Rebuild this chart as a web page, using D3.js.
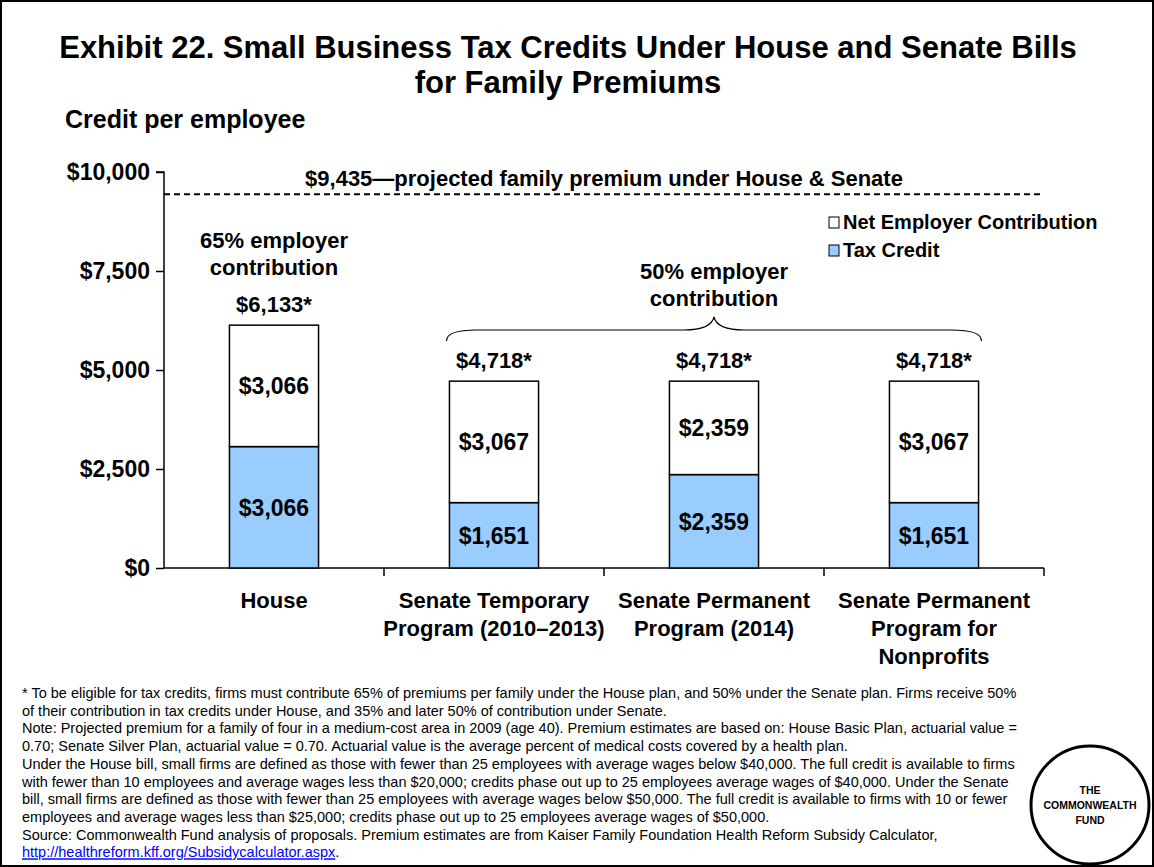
<!DOCTYPE html>
<html><head><meta charset="utf-8">
<script src="https://cdn.jsdelivr.net/npm/d3@7/dist/d3.min.js"></script>
<style>
html,body{margin:0;padding:0;background:#fff;}
svg{display:block;font-family:Arial,"Liberation Sans",sans-serif;}
</style></head>
<body>
<svg id="chart" width="1154" height="867"></svg>
<script>
const categories = ["House", "Senate Temporary Program (2010–2013)", "Senate Permanent Program (2014)", "Senate Permanent Program for Nonprofits"];
const categoryLines = [["House"], ["Senate Temporary", "Program (2010–2013)"], ["Senate Permanent", "Program (2014)"], ["Senate Permanent", "Program for", "Nonprofits"]];
const taxCredit = [3066, 1651, 2359, 1651];
const netEmployer = [3066, 3067, 2359, 3067];
const totalLabels = ["$6,133*", "$4,718*", "$4,718*", "$4,718*"];
const creditLabels = ["$3,066", "$1,651", "$2,359", "$1,651"];
const netLabels = ["$3,066", "$3,067", "$2,359", "$3,067"];
const yTicks = [0, 2500, 5000, 7500, 10000];
const premium = 9435;
const premiumLabel = "$9,435—projected family premium under House & Senate";
const seriesNames = ["Net Employer Contribution", "Tax Credit"];
const footnotes = [
  "* To be eligible for tax credits, firms must contribute 65% of premiums per family under the House plan, and 50% under the Senate plan. Firms receive 50%",
  "of their contribution in tax credits under House, and 35% and later 50% of contribution under Senate.",
  "Note: Projected premium for a family of four in a medium-cost area in 2009 (age 40). Premium estimates are based on: House Basic Plan, actuarial value =",
  "0.70; Senate Silver Plan, actuarial value = 0.70. Actuarial value is the average percent of medical costs covered by a health plan.",
  "Under the House bill, small firms are defined as those with fewer than 25 employees with average wages below $40,000. The full credit is available to firms",
  "with fewer than 10 employees and average wages less than $20,000; credits phase out up to 25 employees average wages of $40,000. Under the Senate",
  "bill, small firms are defined as those with fewer than 25 employees with average wages below $50,000. The full credit is available to firms with 10 or fewer",
  "employees and average wages less than $25,000; credits phase out up to 25 employees average wages of $50,000.",
  "Source: Commonwealth Fund analysis of proposals. Premium estimates are from Kaiser Family Foundation Health Reform Subsidy Calculator,"
];
const sourceLink = "http://healthreform.kff.org/Subsidycalculator.aspx";

const svg = d3.select("#chart");
const W = 1154, H = 867;
const mLeft = 164, mRight = 1044, mTop = 172, mBottom = 568;

// frame
svg.append("rect").attr("x", 1).attr("y", 1).attr("width", W - 2).attr("height", H - 2)
  .attr("fill", "#fff").attr("stroke", "#000").attr("stroke-width", 2);

// title
const title = svg.append("text").attr("text-anchor", "middle").attr("font-weight", "bold")
  .attr("font-size", 31).attr("fill", "#000");
title.append("tspan").attr("x", 568).attr("y", 58).text("Exhibit 22. Small Business Tax Credits Under House and Senate Bills");
title.append("tspan").attr("x", 568).attr("y", 93).text("for Family Premiums");

svg.append("text").attr("x", 65).attr("y", 128).attr("font-weight", "bold").attr("font-size", 25)
  .text("Credit per employee");

const x = d3.scaleBand().domain(categories).range([mLeft, mRight]).padding(0);
const y = d3.scaleLinear().domain([0, 10000]).range([mBottom, mTop]);
const barW = x.bandwidth() * 0.405;

// y axis
const yAxis = svg.append("g").attr("transform", `translate(${mLeft},0)`)
  .call(d3.axisLeft(y).tickValues(yTicks).tickSize(8).tickPadding(6)
    .tickFormat(d => "$" + d3.format(",")(d)));
yAxis.select(".domain").attr("stroke", "#000").attr("stroke-width", 1.5).attr("d", `M-8,${y(10000)}H0V${mBottom}`);
yAxis.selectAll(".tick line").attr("stroke", "#000").attr("stroke-width", 1.5);
yAxis.selectAll(".tick text").attr("font-size", 23).attr("font-weight", "bold").attr("fill", "#000")
  .attr("font-family", "Arial, 'Liberation Sans', sans-serif");

// x axis
const xg = svg.append("g");
xg.append("line").attr("x1", mLeft).attr("x2", mRight).attr("y1", mBottom).attr("y2", mBottom)
  .attr("stroke", "#000").attr("stroke-width", 1.5);
categories.forEach(c => {
  const xe = x(c) + x.bandwidth();
  xg.append("line").attr("x1", xe).attr("x2", xe).attr("y1", mBottom).attr("y2", mBottom + 8)
    .attr("stroke", "#000").attr("stroke-width", 1.5);
});

// dashed premium line
svg.append("line").attr("x1", mLeft).attr("x2", mRight).attr("y1", y(premium)).attr("y2", y(premium))
  .attr("stroke", "#000").attr("stroke-width", 2).attr("stroke-dasharray", "6,4");
svg.append("text").attr("x", (mLeft + mRight) / 2).attr("y", 186).attr("text-anchor", "middle")
  .attr("font-weight", "bold").attr("font-size", 22).text(premiumLabel);

// bars
const bars = svg.append("g");
categories.forEach((c, i) => {
  const cx = x(c) + x.bandwidth() / 2;
  const c0 = y(0), c1 = y(taxCredit[i]), c2 = y(taxCredit[i] + netEmployer[i]);
  bars.append("rect").attr("x", cx - barW / 2).attr("y", c1).attr("width", barW).attr("height", c0 - c1)
    .attr("fill", "#99CCFF").attr("stroke", "#000").attr("stroke-width", 1.5);
  bars.append("rect").attr("x", cx - barW / 2).attr("y", c2).attr("width", barW).attr("height", c1 - c2)
    .attr("fill", "#fff").attr("stroke", "#000").attr("stroke-width", 1.5);
  bars.append("text").attr("x", cx).attr("y", (c0 + c1) / 2 + 8.5).attr("text-anchor", "middle")
    .attr("font-weight", "bold").attr("font-size", 23).text(creditLabels[i]);
  bars.append("text").attr("x", cx).attr("y", (c1 + c2) / 2 + 8.5).attr("text-anchor", "middle")
    .attr("font-weight", "bold").attr("font-size", 23).text(netLabels[i]);
  bars.append("text").attr("x", cx).attr("y", c2 - 13).attr("text-anchor", "middle")
    .attr("font-weight", "bold").attr("font-size", 22).text(totalLabels[i]);
  const t = svg.append("text").attr("text-anchor", "middle").attr("font-weight", "bold").attr("font-size", 22);
  categoryLines[i].forEach((ln, k) => t.append("tspan").attr("x", cx).attr("y", 608 + k * 28).text(ln));
});

// annotations
const houseX = x(categories[0]) + x.bandwidth() / 2;
const a1 = svg.append("text").attr("text-anchor", "middle").attr("font-weight", "bold").attr("font-size", 22);
a1.append("tspan").attr("x", houseX).attr("y", 248).text("65% employer");
a1.append("tspan").attr("x", houseX).attr("y", 275).text("contribution");

const bl = x(categories[1]) + x.bandwidth() / 2 - barW / 2 - 3;
const br = x(categories[3]) + x.bandwidth() / 2 + barW / 2 + 3;
const bm = (bl + br) / 2;
const a2 = svg.append("text").attr("text-anchor", "middle").attr("font-weight", "bold").attr("font-size", 22);
a2.append("tspan").attr("x", bm).attr("y", 279).text("50% employer");
a2.append("tspan").attr("x", bm).attr("y", 306).text("contribution");
svg.append("path").attr("fill", "none").attr("stroke", "#000").attr("stroke-width", 1.2)
  .attr("d", `M${bl},341 Q${bl},330 ${bl + 30},330 L${bm - 30},330 Q${bm - 3},330 ${bm},317 Q${bm + 3},330 ${bm + 30},330 L${br - 30},330 Q${br},330 ${br},341`);

// legend
const legColors = ["#fff", "#99CCFF"];
seriesNames.forEach((s, i) => {
  const ly = 217 + i * 28;
  svg.append("rect").attr("x", 829).attr("y", ly).attr("width", 10).attr("height", 11)
    .attr("fill", legColors[i]).attr("stroke", "#000").attr("stroke-width", 1);
  svg.append("text").attr("x", 843).attr("y", ly + 12).attr("font-weight", "bold").attr("font-size", 20).text(s);
});

// footnotes
const fn = svg.append("g").attr("font-size", 14.5).attr("fill", "#000");
footnotes.forEach((t, i) => {
  fn.append("text").attr("x", 22).attr("y", 698 + i * 17.7).text(t);
});
const lnk = fn.append("text").attr("x", 22).attr("y", 698 + 9 * 17.7);
lnk.append("tspan").attr("fill", "#0000FF").attr("text-decoration", "underline").text(sourceLink);
lnk.append("tspan").attr("fill", "#000").text(".");

// logo
svg.append("circle").attr("cx", 1090).attr("cy", 805).attr("r", 59).attr("fill", "#fff")
  .attr("stroke", "#000").attr("stroke-width", 3);
const logo = svg.append("text").attr("text-anchor", "middle").attr("font-weight", "bold").attr("font-size", 10.5);
["THE", "COMMONWEALTH", "FUND"].forEach((t, i) => logo.append("tspan").attr("x", 1090).attr("y", 794 + i * 15).text(t));
</script>
</body></html>
